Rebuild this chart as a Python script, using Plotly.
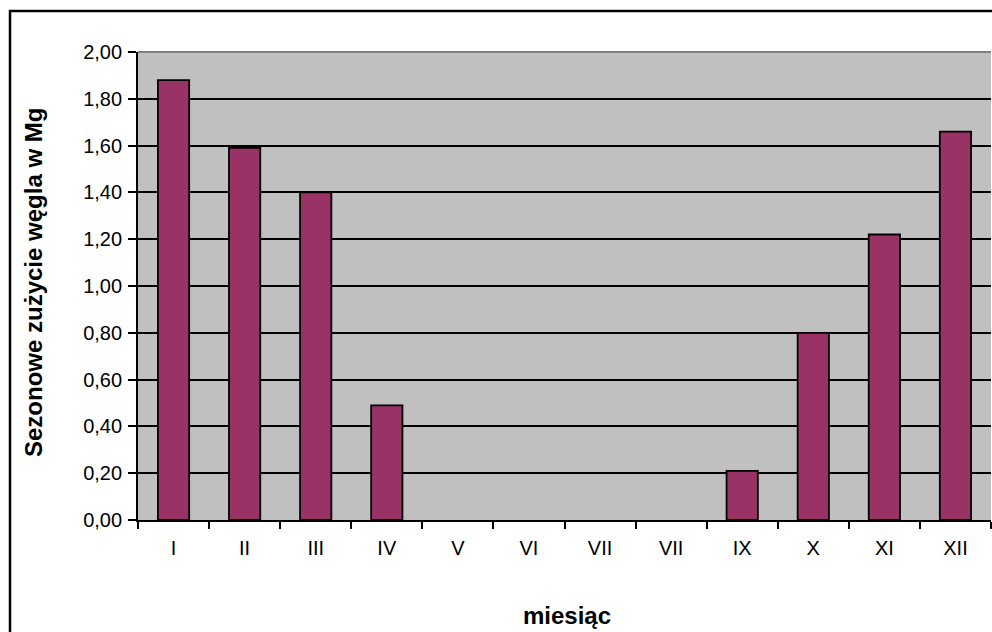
import plotly.graph_objects as go

months = ["I", "II", "III", "IV", "V", "VI", "VII", "VII", "IX", "X", "XI", "XII"]
usage = [1.88, 1.59, 1.40, 0.49, 0.0, 0.0, 0.0, 0.0, 0.21, 0.80, 1.22, 1.66]
y_ticks = [0.0, 0.2, 0.4, 0.6, 0.8, 1.0, 1.2, 1.4, 1.6, 1.8, 2.0]
x_title = "miesiąc"
y_title = "Sezonowe zużycie węgla w Mg"

positions = list(range(1, len(months) + 1))
edge_widths = [1.8 if v > 0 else 0 for v in usage]

fig = go.Figure()
fig.add_trace(go.Bar(
    x=positions, y=usage,
    marker=dict(color="#993366", line=dict(color="black", width=edge_widths)),
    width=0.44,
))

font = "Liberation Sans, Arial, sans-serif"
fig.update_layout(
    width=992, height=632,
    margin=dict(l=138, r=1, t=52, b=112),
    paper_bgcolor="white",
    plot_bgcolor="#C0C0C0",
    separators=", ",
    showlegend=False,
    font=dict(family=font, size=20, color="black"),
    xaxis=dict(
        range=[0.5, 12.5],
        tickvals=positions, ticktext=months,
        ticks="", showgrid=False,
        showline=True, linecolor="black", linewidth=1.8,
        minor=dict(ticks="outside", tick0=0.5, dtick=1, ticklen=7,
                   tickcolor="black", tickwidth=1.8, showgrid=False),
        tickfont=dict(size=20), ticklabelstandoff=9,
        zeroline=False,
    ),
    yaxis=dict(
        range=[0, 2.0],
        tickvals=y_ticks, tickformat=".2f",
        ticks="outside", ticklen=8, tickcolor="black", tickwidth=1.8,
        showline=True, linecolor="black", linewidth=1.8,
        showgrid=True, gridcolor="black", gridwidth=1.8,
        zeroline=False,
        tickfont=dict(size=20), ticklabelstandoff=2,
    ),
    annotations=[
        dict(text="<b>" + x_title + "</b>", xref="paper", yref="paper",
             x=(567 - 138) / 853, y=-(615 - 520) / 468, xanchor="center", yanchor="middle",
             showarrow=False, font=dict(size=24, family=font)),
        dict(text="<b>" + y_title + "</b>", xref="paper", yref="paper",
             x=-(138 - 33) / 853, y=(520 - 283) / 468, xanchor="center", yanchor="middle",
             textangle=-90, showarrow=False, font=dict(size=24, family=font)),
    ],
    shapes=[
        dict(type="line", xref="paper", yref="paper", x0=0, x1=1, y0=1, y1=1,
             line=dict(color="#808080", width=1.8)),
        dict(type="rect", xref="paper", yref="paper",
             x0=-(138 - 10) / 853, x1=1.05, y0=-0.5, y1=(520 - 11) / 468,
             line=dict(color="black", width=2.5), layer="above"),
    ],
)

fig.write_html("out.html", config={"displayModeBar": False},
               post_script="document.body.style.margin='0';document.body.style.overflow='hidden';")
